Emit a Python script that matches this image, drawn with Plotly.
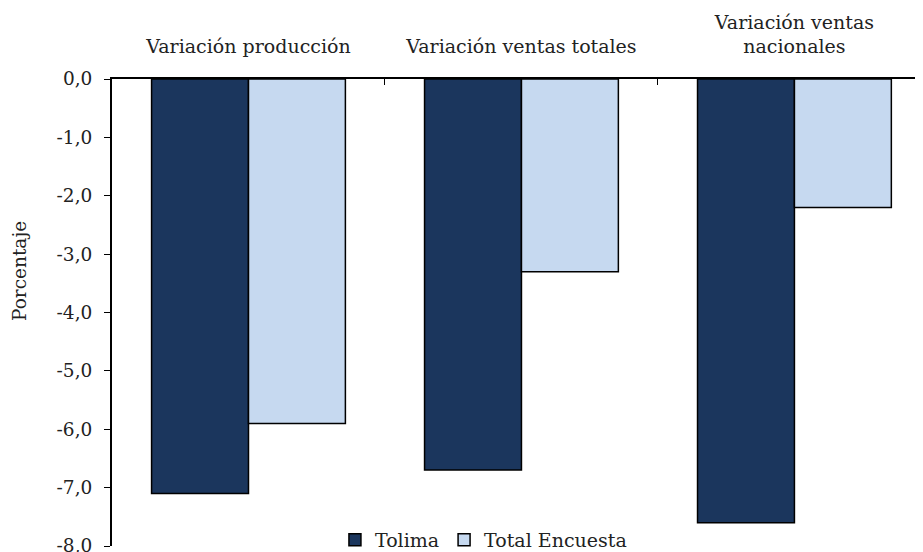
import plotly.graph_objects as go

categories = ["Variación producción", "Variación ventas totales", "Variación ventas<br>nacionales"]
tolima = [-7.1, -6.7, -7.6]
total_encuesta = [-5.9, -3.3, -2.2]
tick_vals = [0, -1, -2, -3, -4, -5, -6, -7, -8]
tick_labels = ["0,0", "-1,0", "-2,0", "-3,0", "-4,0", "-5,0", "-6,0", "-7,0", "-8,0"]
y_title = "Porcentaje"

FONT = "DejaVu Serif"

fig = go.Figure()
fig.add_trace(go.Bar(name="Tolima", x=categories, y=tolima,
                     marker=dict(color="#1b365d", line=dict(color="black", width=1.5))))
fig.add_trace(go.Bar(name="Total Encuesta", x=categories, y=total_encuesta,
                     marker=dict(color="#c6d9f0", line=dict(color="black", width=1.5))))

fig.update_layout(
    width=923, height=552,
    margin=dict(l=104, r=8, t=71, b=14, autoexpand=False),
    paper_bgcolor="white", plot_bgcolor="white",
    barmode="group", bargap=0.29, bargroupgap=0,
    font=dict(family=FONT, size=19, color="#222"),
    showlegend=True,
    legend=dict(orientation="h", x=0.458, xanchor="center", y=0.013, yanchor="middle",
                font=dict(size=19), bgcolor="rgba(0,0,0,0)", traceorder="normal",
                itemwidth=30),
    annotations=[dict(text=y_title, textangle=-90, xref="paper", yref="paper",
                      x=-0.1134, y=0.589, xanchor="center", yanchor="middle",
                      showarrow=False, font=dict(size=18.5, color="#222"))],
)
fig.update_xaxes(side="top", showline=True, linecolor="black", linewidth=2,
                 ticks="inside", tickson="boundaries", ticklen=6, tickcolor="black",
                 range=[-0.5, 2.471], showgrid=False, tickfont=dict(size=19),
                 automargin=False, ticklabelstandoff=16)
fig.update_yaxes(range=[-8, 0], tickvals=tick_vals, ticktext=tick_labels,
                 showline=True, linecolor="black", linewidth=2,
                 ticks="outside", ticklen=6, tickcolor="black", showgrid=False,
                 zeroline=False, automargin=False, ticklabelstandoff=8,
                 tickfont=dict(size=18.5))

fig.write_html("out.html")
